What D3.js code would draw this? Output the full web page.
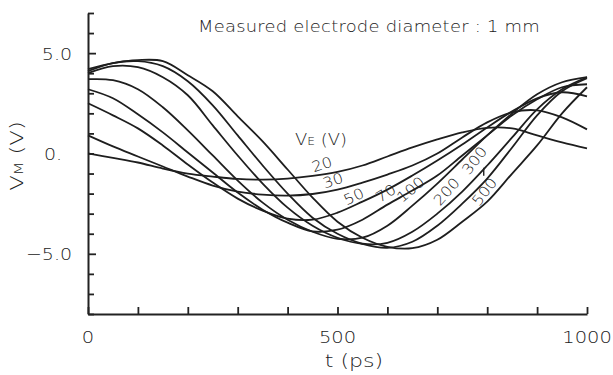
<!DOCTYPE html>
<html><head><meta charset="utf-8">
<script src="https://cdn.jsdelivr.net/npm/d3@7"></script>
<style>
html,body{margin:0;padding:0;background:#fff;}
svg text{font-family:"DejaVu Sans",sans-serif;fill:#222;font-weight:200;}
</style></head>
<body><svg id="c" width="613" height="375"></svg>
<script>
// time samples (ps)
const times = [0,50,100,150,200,250,300,350,400,450,500,550,600,650,700,750,800,850,900,950,1000];
// V_E values (V) of each curve
const seriesNames = ["20","30","50","70","100","200","300","500"];
// V_M (V) for each V_E
const v20  = [0.0,-0.22,-0.45,-0.75,-1.0,-1.15,-1.27,-1.3,-1.25,-1.12,-0.92,-0.6,-0.15,0.3,0.7,1.05,1.28,1.25,0.9,0.55,0.25];
const v30  = [0.9,0.35,-0.15,-0.65,-1.15,-1.6,-1.9,-2.05,-2.1,-2.02,-1.8,-1.45,-1.05,-0.6,0.0,0.8,1.55,2.05,2.15,1.8,1.2];
const v50  = [2.5,1.9,1.25,0.4,-0.55,-1.45,-2.25,-2.85,-3.25,-3.3,-2.95,-2.4,-1.8,-1.1,-0.35,0.45,1.3,2.1,2.75,3.05,2.85];
const v70  = [3.2,2.75,1.95,1.05,0.05,-0.95,-1.95,-2.8,-3.45,-3.88,-3.8,-3.3,-2.55,-1.85,-1.1,-0.1,0.9,1.9,2.7,3.3,3.45];
const v100 = [3.7,3.65,3.2,2.3,1.15,-0.1,-1.35,-2.45,-3.3,-3.9,-4.25,-4.2,-3.6,-2.6,-1.5,-0.3,0.9,2.0,2.95,3.55,3.8];
const v200 = [4.0,4.35,4.3,3.8,2.9,1.4,-0.1,-1.5,-2.7,-3.6,-4.2,-4.5,-4.45,-3.9,-3.0,-1.9,-0.6,0.8,2.2,3.2,3.8];
const v300 = [4.1,4.5,4.6,4.35,3.6,2.4,0.9,-0.6,-2.0,-3.2,-4.0,-4.5,-4.7,-4.4,-3.6,-2.5,-1.25,0.3,1.9,3.1,3.75];
const v500 = [4.2,4.5,4.65,4.6,3.9,3.1,1.85,0.6,-0.8,-2.2,-3.4,-4.2,-4.65,-4.72,-4.3,-3.4,-2.4,-1.0,0.4,2.0,3.3];
const seriesValues = [v20,v30,v50,v70,v100,v200,v300,v500];
// curve label anchor (t, V) and tilt
const labelT = [469,491,533,597,647,719,775,795];
const labelV = [-0.56,-1.36,-2.16,-2.0,-1.81,-1.91,-0.36,-1.91];
const labelAngle = [-18,-18,-25,-32,-40,-48,-52,-52];
// axis ticks
const xTicks = [0,100,200,300,400,500,600,700,800,900,1000];
const xTickLabels = ["0","500","1000"];
const yTicks = [-8,-7,-6,-5,-4,-3,-2,-1,0,1,2,3,4,5,6,7];
const yTickLabels = [["5.0",5],["0.",0],["\u22125.0",-5]];

const svg = d3.select("#c");
const x = d3.scaleLinear().domain([0,1000]).range([88,587]);
const y = d3.scaleLinear().domain([-8,7]).range([314,13]);

// axes (ticks pointing inward)
const gx = svg.append("g").attr("transform",`translate(0,${y(-8)})`)
  .call(d3.axisBottom(x).tickValues(xTicks).tickSize(-7).tickFormat("").tickSizeOuter(0));
const gy = svg.append("g").attr("transform",`translate(${x(0)},0)`)
  .call(d3.axisLeft(y).tickValues(yTicks).tickSize(-7).tickFormat("").tickSizeOuter(0));
[gx,gy].forEach(g=>{
  g.select(".domain").attr("stroke","#222").attr("stroke-width",2);
  g.selectAll(".tick line").attr("stroke","#222").attr("stroke-width",1.8);
});
gy.selectAll(".tick line").attr("x2",d=> (d===5||d===-5)?8:6);

// tick labels (reference lettering is wide: stretch horizontally)
svg.append("g").selectAll("text").data(xTickLabels).join("text")
  .attr("transform",d=>`translate(${x(+d)},343) scale(1.18,1)`).attr("text-anchor","middle")
  .attr("font-size",16.5).text(d=>d);
svg.append("g").selectAll("text").data(yTickLabels).join("text")
  .attr("transform",d=>`translate(${d[1]===0?44:72},${y(d[1])+6.5}) scale(1.15,1)`)
  .attr("text-anchor",d=> d[1]===0?"start":"end")
  .attr("font-size",16.5).text(d=>d[0]);

// axis titles
svg.append("text").attr("transform","translate(354,367) scale(1.3,1)").attr("text-anchor","middle")
  .attr("font-size",17).text("t (ps)");
const yl = svg.append("text").attr("transform","translate(23,156) rotate(-90) scale(1.3,1)")
  .attr("text-anchor","middle").attr("font-size",17.5);
yl.append("tspan").text("V");
yl.append("tspan").attr("font-size",12).text("M");
yl.append("tspan").text(" (V)");

// title
svg.append("text").attr("transform","translate(198,32) scale(1.12,1)").attr("font-size",16)
  .attr("textLength",305).attr("lengthAdjust","spacing")
  .text("Measured electrode diameter : 1 mm");

// curves
const line = d3.line().x((d,i)=>x(times[i])).y(d=>y(d)).curve(d3.curveCatmullRom.alpha(0.5));
svg.append("g").selectAll("path").data(seriesValues).join("path")
  .attr("d",d=>line(d)).attr("fill","none").attr("stroke","#1e1e1e").attr("stroke-width",1.8);

// legend heading
const vl = svg.append("text").attr("transform","translate(295,145) scale(1.12,1)").attr("font-size",16);
vl.append("tspan").text("V");
vl.append("tspan").attr("font-size",11).text("E");
vl.append("tspan").text(" (V)");

// curve labels
svg.append("g").selectAll("text").data(seriesNames).join("text")
  .attr("transform",(d,i)=>`translate(${x(labelT[i])},${y(labelV[i])}) rotate(${labelAngle[i]}) scale(1.12,1)`)
  .attr("text-anchor","middle").attr("dominant-baseline","central")
  .attr("font-size",14.5).text(d=>d);
// leader tick for the 300 label
svg.append("line").attr("x1",x(labelT[6])+9).attr("x2",x(labelT[6])+9)
  .attr("y1",y(labelV[6])+7).attr("y2",y(labelV[6])+15).attr("stroke","#222").attr("stroke-width",1.4);
</script></body></html>
